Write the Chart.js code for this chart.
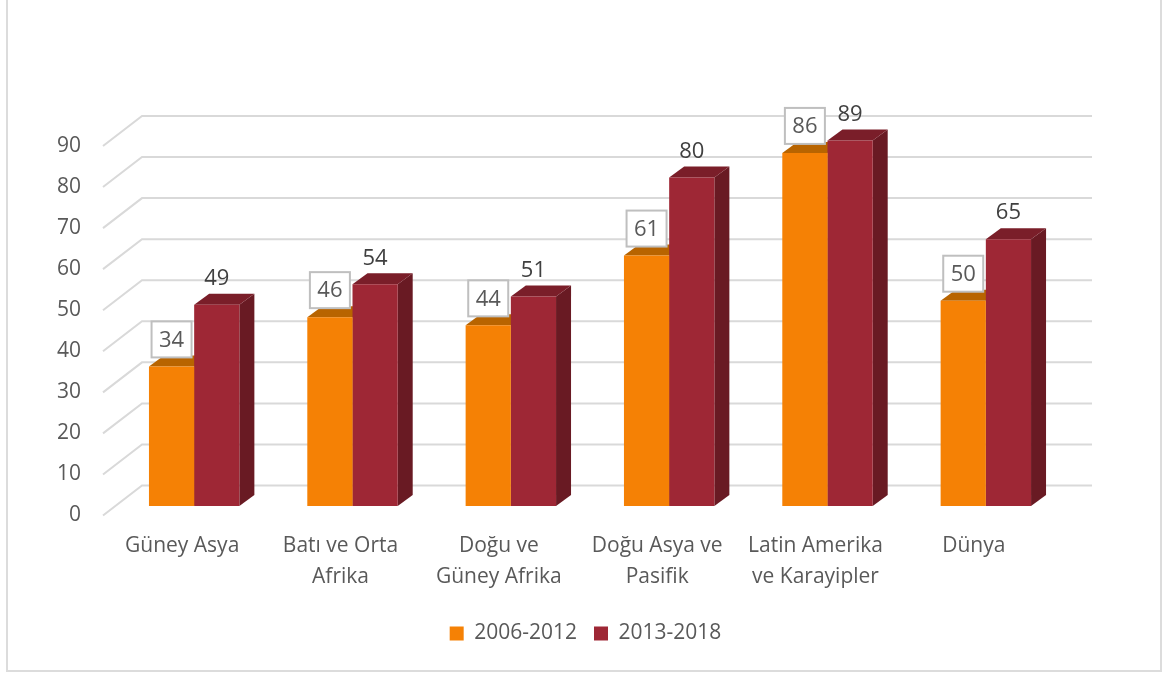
<!DOCTYPE html>
<html>
<head>
<meta charset="utf-8">
<style>
  html, body { margin: 0; padding: 0; background: #fff; }
  #frame { position: absolute; left: 6px; top: -4px; width: 1152px; height: 672px; border: 2px solid #dcdcdc; }
  #wrap { position: absolute; left: 0; top: 0; width: 1171px; height: 673px; }
</style>
</head>
<body>
<div id="frame"></div>
<div id="wrap"><canvas id="chart" width="1171" height="673"></canvas></div>
<script src="https://cdn.jsdelivr.net/npm/chart.js@4"></script>
<script>
const categories = [['Güney Asya'], ['Batı ve Orta', 'Afrika'], ['Doğu ve', 'Güney Afrika'], ['Doğu Asya ve', 'Pasifik'], ['Latin Amerika', 've Karayipler'], ['Dünya']];
const series2006 = [34, 46, 44, 61, 86, 50];
const series2013 = [49, 54, 51, 80, 89, 65];
const seriesNames = ['2006-2012', '2013-2018'];
const yTicks = [0, 10, 20, 30, 40, 50, 60, 70, 80, 90];

const fontName = '"Open Sans", sans-serif';
const textColor = '#595959';
const gridColor = '#d9d9d9';

// depth of the fake 3D floor, and how far the bars stand back from its front edge
const wallX = 39, wallY = -30;
const barX = 12, barY = -9.5;
const depthX = 15, depthY = -11;

const faces = [
  { front: '#f58105', top: '#b86400', side: '#a85a00' },
  { front: '#9e2735', top: '#7a1e29', side: '#691a23' }
];

function poly(ctx, pts, color) {
  ctx.fillStyle = color;
  ctx.beginPath();
  pts.forEach(function (p, i) { i ? ctx.lineTo(p[0], p[1]) : ctx.moveTo(p[0], p[1]); });
  ctx.closePath();
  ctx.fill();
}

const walls = {
  id: 'walls',
  // legend is centred on the whole page, not on the plot width
  afterLayout(chart) {
    chart.legend.left = 0;
    chart.legend.right = chart.width;
  },
  beforeDatasetsDraw(chart) {
    const ctx = chart.ctx, area = chart.chartArea, y = chart.scales.y;
    ctx.save();
    ctx.strokeStyle = gridColor;
    ctx.lineWidth = 2;
    yTicks.forEach(function (t) {
      const py = y.getPixelForValue(t);
      ctx.beginPath();
      ctx.moveTo(area.left, py);
      ctx.lineTo(area.left + wallX, py + wallY);
      ctx.lineTo(area.right + wallX, py + wallY);
      ctx.stroke();
    });
    ctx.restore();

    // bars and their side/top faces sit a little behind the front edge
    ctx.save();
    ctx.translate(barX, barY);
    chart.data.datasets.forEach(function (ds, d) {
      chart.getDatasetMeta(d).data.forEach(function (bar) {
        const l = bar.x - bar.width / 2, r = bar.x + bar.width / 2;
        poly(ctx, [[r, bar.y], [r + depthX, bar.y + depthY], [r + depthX, bar.base + depthY], [r, bar.base]], faces[d].side);
        poly(ctx, [[l, bar.y], [l + depthX, bar.y + depthY], [r + depthX, bar.y + depthY], [r, bar.y]], faces[d].top);
      });
    });
  },
  afterDatasetsDraw(chart) {
    chart.ctx.restore();
  }
};

const valueLabels = {
  id: 'valueLabels',
  afterDraw(chart) {
    const ctx = chart.ctx;
    ctx.save();
    ctx.font = '22px ' + fontName;
    ctx.textAlign = 'center';
    ctx.textBaseline = 'middle';
    chart.data.datasets.forEach(function (ds, d) {
      chart.getDatasetMeta(d).data.forEach(function (bar, i) {
        const cx = bar.x + barX, cy = bar.y + barY - 27;
        if (d === 0) {
          ctx.fillStyle = '#fff';
          ctx.strokeStyle = '#bfbfbf';
          ctx.lineWidth = 2;
          ctx.fillRect(cx - 20, cy - 18, 40, 36);
          ctx.strokeRect(cx - 20, cy - 18, 40, 36);
        }
        ctx.fillStyle = d === 0 ? textColor : '#404040';
        ctx.fillText(String(ds.data[i]), cx, cy + 1);
      });
    });
    ctx.restore();
  }
};

new Chart(document.getElementById('chart'), {
  type: 'bar',
  data: {
    labels: categories,
    datasets: [
      { label: seriesNames[0], data: series2006, backgroundColor: faces[0].front },
      { label: seriesNames[1], data: series2013, backgroundColor: faces[1].front }
    ]
  },
  options: {
    responsive: false,
    animation: false,
    layout: { padding: { left: 0, right: 118, top: 146, bottom: 19 } },
    datasets: { bar: { categoryPercentage: 0.571, barPercentage: 1 } },
    scales: {
      x: {
        grid: { display: false },
        border: { display: false },
        ticks: { color: textColor, font: { family: fontName, size: 21, lineHeight: 1.43 }, padding: 8, maxRotation: 0 },
        afterFit(scale) { scale.height = 90.5; }
      },
      y: {
        min: 0,
        max: 90,
        grid: { display: false },
        border: { display: false },
        ticks: { stepSize: 10, color: textColor, font: { family: fontName, size: 21 }, padding: 14 },
        afterFit(scale) { scale.width = 103; }
      }
    },
    plugins: {
      tooltip: { enabled: false },
      legend: {
        position: 'bottom',
        labels: { color: textColor, font: { family: fontName, size: 21 }, boxWidth: 14, boxHeight: 14, padding: 17 }
      }
    }
  },
  plugins: [walls, valueLabels]
});
</script>
</body>
</html>
